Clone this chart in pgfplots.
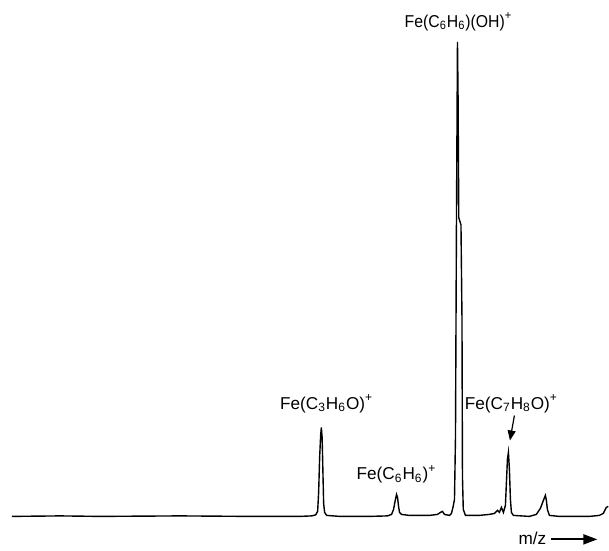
\documentclass[border=0pt]{standalone}
\usepackage{fontspec}
\setmainfont{Liberation Sans}
\usepackage{pgfplots}
\pgfplotsset{compat=1.18}
\usetikzlibrary{arrows.meta}
\begin{document}
\fontsize{8.6}{10}\selectfont
\begin{tikzpicture}
\begin{axis}[
  scale only axis, width=304.5pt, height=272.5pt,
  xmin=0, xmax=609, ymin=-27, ymax=518,
  hide axis, clip=false,
]
\path (rel axis cs:0,0) rectangle (rel axis cs:1,1);
\addplot[black, line width=0.7pt, mark=none] coordinates {
(12,1)(60,1.5)(100,1)(180,1.5)(250,1)(300,1)(312,1.5)(316,2.5)(318,6)(319,25)(320,60)(321,82)(321.7,90)(322.5,80)(323.3,45)(324,14)(325,5)(327,2)(340,1)(370,1)(388,1.5)(392,3)(394,8)(395.5,16)(397,23)(398,20)(399,11)(400,5)(402,3)(410,2)(430,2)(438,3)(441,5)(443,6)(445,3)(450,2)(452,4)(453.5,10)(455,18)(456,80)(457,300)(458,476)(458.6,420)(459.3,300)(461.5,293)(462.5,200)(463,40)(463.8,8)(466,2)(480,2)(490,3)(495,4)(498,7)(500,5)(502,10)(504,5)(506,12)(507,35)(508,58)(509,65)(510,48)(511,18)(512,5)(514,2)(530,1)(537,3)(541,9)(544,17)(546,22)(547,17)(548,8)(550,2)(560,1)(590,1)(600,2)(604,4)(607,10)(609,11)
};
\node at (axis cs:459,496) {\scalebox{0.92}[1]{Fe(C\textsubscript{6}H\textsubscript{6})(OH)\textsuperscript{+}}};
\node at (axis cs:327,114) {Fe(C\textsubscript{3}H\textsubscript{6}O)\textsuperscript{+}};
\node at (axis cs:397,43) {Fe(C\textsubscript{6}H\textsubscript{6})\textsuperscript{+}};
\node at (axis cs:512,114) {Fe(C\textsubscript{7}H\textsubscript{8}O)\textsuperscript{+}};
\draw[-{Triangle[length=5pt,width=4pt]}, line width=0.6pt] (axis cs:515,102) -- (axis cs:510.5,77);
\node at (axis cs:533,-21) {m/z};
\draw[-{Triangle[length=7pt,width=5pt]}, line width=1pt] (axis cs:552,-22) -- (axis cs:598,-22);
\end{axis}
\end{tikzpicture}
\end{document}
